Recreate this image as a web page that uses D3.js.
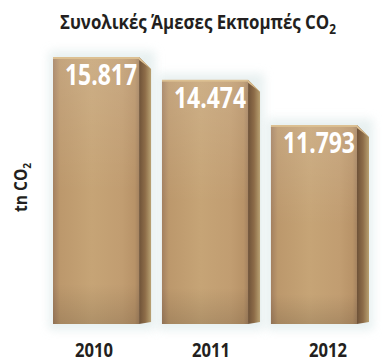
<!DOCTYPE html>
<html><head><meta charset="utf-8">
<script src="https://cdn.jsdelivr.net/npm/d3@7"></script>
<style>
html,body{margin:0;padding:0;background:#fff;}
text{font-family:"Open Sans","Noto Sans",sans-serif;font-weight:bold;}
</style></head>
<body><svg id="c" width="383" height="362"></svg>
<script>
const years = ["2010","2011","2012"];
const values = [15817, 14474, 11793];
const valueLabels = ["15.817","14.474","11.793"];
const title = "Συνολικές Άμεσες Εκπομπές CO";
const yTitle = "tn CO";

(function(){
const svg=d3.select("#c");
const base=324, topY=57;
const x=d3.scaleBand().domain(years).range([53,369]).paddingInner(0.1).paddingOuter(0);
const xl=d3.scalePoint().domain(years).range([94,328]);
const y=d3.scaleLinear().domain([0,15817]).range([base,topY]);
const depth=12;

const defs=svg.append("defs");
const gf=defs.append("linearGradient").attr("id","front").attr("x1",0).attr("x2",1).attr("y1",0).attr("y2",0);
[[0,"#a38060"],[0.08,"#bc986c"],[0.45,"#c6a476"],[0.8,"#c19d71"],[0.95,"#b89368"],[1,"#a58360"]].forEach(s=>gf.append("stop").attr("offset",s[0]).attr("stop-color",s[1]));
const gv=defs.append("linearGradient").attr("id","frontv").attr("x1",0).attr("x2",0).attr("y1",0).attr("y2",1);
[[0,"#ffffff",0.12],[0.5,"#ffffff",0],[0.85,"#000000",0],[1,"#000000",0.12]].forEach(s=>gv.append("stop").attr("offset",s[0]).attr("stop-color",s[1]).attr("stop-opacity",s[2]));
const gs=defs.append("linearGradient").attr("id","side").attr("x1",0).attr("x2",1);
[[0,"#6e5238"],[0.5,"#8d6c48"],[1,"#b8a070"]].forEach(s=>gs.append("stop").attr("offset",s[0]).attr("stop-color",s[1]));
const blur=defs.append("filter").attr("id","glow").attr("x","-20%").attr("y","-20%").attr("width","140%").attr("height","140%");
blur.append("feGaussianBlur").attr("stdDeviation",5);

// title
const t=svg.append("text").attr("x",60).attr("y",29).attr("font-size",20).attr("fill","#231f20")
  .attr("textLength",276).attr("lengthAdjust","spacingAndGlyphs").text(title);
t.append("tspan").attr("font-size",14).attr("dy",5).text("2");

// y title
const yt=svg.append("text").attr("transform","translate(27,212) rotate(-90)").attr("font-size",17).attr("fill","#231f20")
  .attr("textLength",49).attr("lengthAdjust","spacingAndGlyphs").text(yTitle);
yt.append("tspan").attr("font-size",11).attr("dy",4).text("2");

const g=svg.append("g");
years.forEach((yr,i)=>{
  const x0=x(yr), bw=x.bandwidth(), fw=bw-depth, yt0=y(values[i]);
  g.append("rect").attr("x",x0-4).attr("y",yt0-6).attr("width",bw+8).attr("height",base-yt0+12).attr("fill","#d8e6e6").attr("opacity",0.6).attr("filter","url(#glow)");
  g.append("path").attr("d",`M${x0+fw},${yt0} L${x0+fw+depth},${yt0+depth} L${x0+fw+depth},${base-2} L${x0+fw},${base}Z`).attr("fill","url(#side)");
  g.append("path").attr("d",`M${x0},${yt0} L${x0+fw},${yt0} L${x0+fw+depth},${yt0+depth} L${x0+fw},${yt0+3} L${x0},${yt0+3}Z`).attr("fill","#dcc092");
  g.append("rect").attr("x",x0).attr("y",yt0+2).attr("width",fw).attr("height",base-yt0-2).attr("fill","url(#front)");
  g.append("rect").attr("x",x0).attr("y",yt0+2).attr("width",fw).attr("height",base-yt0-2).attr("fill","url(#frontv)");
  g.append("text").attr("x",x0+fw/2+5).attr("y",yt0+28).attr("text-anchor","middle").attr("font-size",28).attr("fill","#ffffff")
    .attr("textLength",72).attr("lengthAdjust","spacingAndGlyphs").text(valueLabels[i]);
  svg.append("text").attr("x",xl(yr)).attr("y",357).attr("text-anchor","middle").attr("font-size",20).attr("fill","#231f20")
    .attr("textLength",38).attr("lengthAdjust","spacingAndGlyphs").text(yr);
});
})();
</script></body></html>
